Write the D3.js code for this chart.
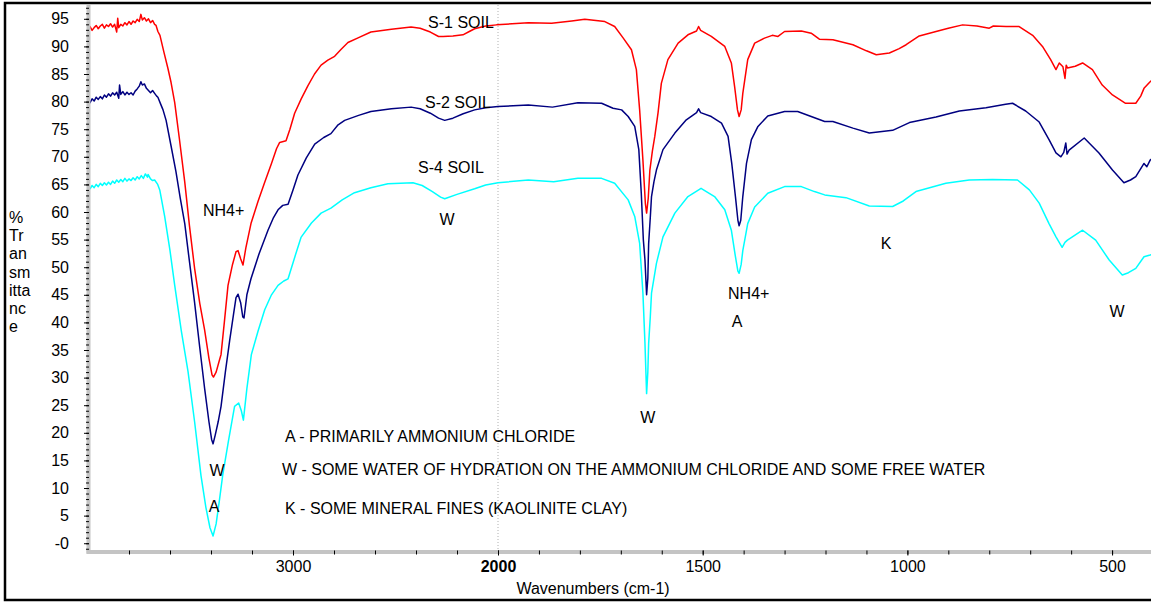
<!DOCTYPE html>
<html>
<head>
<meta charset="utf-8">
<script src="https://cdn.jsdelivr.net/npm/d3@7"></script>
<style>
  body { margin: 0; background: #fff; }
  svg { display: block; font-family: 'Liberation Sans', Arial, sans-serif; }
</style>
</head>
<body>
<svg id="chart"></svg>
<script>
// [wavenumber, %T]
const s1Soil = [
  [4000, 93.1], [3990, 93.6], [3980, 92.9], [3970, 93.4], [3960, 93.8], [3950, 93.2], [3940, 93.7], [3930, 94.0],
  [3920, 93.3], [3910, 93.9], [3900, 93.6], [3890, 94.1], [3880, 93.5], [3870, 94.0], [3860, 92.6], [3855, 95.1],
  [3850, 93.4], [3840, 94.0], [3830, 93.7], [3820, 94.3], [3810, 93.9], [3800, 94.5], [3790, 94.0], [3780, 94.6],
  [3770, 94.3], [3760, 94.9], [3750, 94.5], [3742, 95.8], [3735, 94.8], [3725, 95.2], [3715, 94.6], [3705, 95.0],
  [3695, 94.3], [3685, 94.7], [3675, 94.0], [3668, 93.8], [3659, 92.7], [3649, 92.0], [3630, 89.0], [3610, 86.0],
  [3595, 83.5], [3577, 79.8], [3555, 73.5], [3528, 65.4], [3505, 57.5], [3480, 49.8], [3455, 43.5], [3431, 38.6],
  [3410, 33.5], [3395, 30.5], [3388, 30.1], [3375, 31.0], [3360, 33.0], [3351, 34.2], [3335, 40.0], [3317, 46.7],
  [3295, 50.5], [3278, 52.8], [3268, 53.0], [3255, 51.5], [3244, 50.4], [3230, 53.5], [3205, 57.9], [3170, 62.0],
  [3138, 65.4], [3105, 68.8], [3080, 71.5], [3065, 72.6], [3034, 72.9], [3015, 75.0], [2992, 77.9], [2960, 80.5],
  [2927, 82.9], [2895, 85.0], [2863, 86.6], [2830, 87.5], [2797, 88.2], [2765, 89.5], [2732, 90.7], [2680, 91.6],
  [2620, 92.6], [2520, 93.1], [2424, 93.5], [2380, 93.3], [2330, 92.6], [2290, 91.8], [2268, 91.8], [2220, 91.9],
  [2171, 92.1], [2140, 92.7], [2114, 93.2], [2060, 93.7], [2007, 93.9], [1926, 94.3], [1869, 94.2], [1820, 94.6],
  [1788, 94.9], [1739, 94.5], [1715, 93.6], [1694, 91.5], [1674, 89.4], [1662, 85.8], [1654, 78.5], [1646, 69.4],
  [1640, 61.5], [1637, 59.8], [1633, 62.5], [1629, 67.6], [1623, 71.0], [1617, 73.7], [1609, 78.0], [1601, 83.3],
  [1585, 87.6], [1560, 90.6], [1536, 92.1], [1515, 92.8], [1510, 93.6], [1505, 92.9], [1479, 91.8], [1446, 90.0],
  [1430, 87.0], [1422, 82.7], [1415, 78.5], [1411, 77.3], [1406, 78.5], [1402, 81.5], [1390, 87.6], [1373, 90.6],
  [1349, 91.5], [1330, 92.0], [1316, 91.8], [1300, 92.7], [1259, 92.8], [1235, 92.4], [1215, 91.3], [1182, 91.2],
  [1133, 90.3], [1100, 89.2], [1076, 88.5], [1044, 88.8], [1020, 89.6], [1003, 90.3], [971, 91.9], [930, 92.7],
  [900, 93.3], [865, 93.9], [830, 93.7], [800, 93.3], [790, 93.7], [759, 93.6], [727, 93.6], [694, 92.0],
  [670, 90.0], [650, 87.6], [637, 85.8], [629, 87.0], [620, 86.3], [615, 84.2], [612, 86.6], [609, 86.1],
  [590, 86.4], [572, 87.0], [548, 85.8], [524, 83.0], [499, 81.2], [467, 79.7], [442, 79.7], [430, 81.0],
  [422, 82.4], [407, 83.6], [400, 84.0],
];

const s2Soil = [
  [4000, 80.3], [3990, 79.8], [3980, 80.5], [3970, 80.1], [3960, 80.8], [3950, 80.4], [3940, 80.9], [3930, 80.5],
  [3920, 81.2], [3910, 80.8], [3900, 81.4], [3890, 81.0], [3880, 81.6], [3870, 81.2], [3860, 81.7], [3850, 80.6],
  [3846, 83.0], [3840, 81.3], [3830, 81.8], [3820, 81.2], [3810, 81.7], [3800, 81.3], [3790, 81.6], [3780, 81.2],
  [3770, 81.9], [3760, 82.3], [3750, 82.8], [3742, 83.6], [3735, 83.0], [3725, 83.2], [3715, 82.4], [3705, 82.0],
  [3695, 81.6], [3685, 82.0], [3675, 81.5], [3665, 81.0], [3659, 80.8], [3645, 79.5], [3634, 78.5], [3619, 76.6],
  [3595, 72.0], [3571, 67.3], [3550, 62.5], [3528, 57.9], [3505, 51.0], [3480, 43.6], [3455, 35.5], [3431, 28.0],
  [3410, 22.0], [3397, 18.8], [3390, 18.0], [3380, 19.5], [3365, 22.0], [3351, 24.8], [3330, 31.0], [3309, 36.7],
  [3290, 41.5], [3278, 44.5], [3268, 45.1], [3255, 43.5], [3245, 41.0], [3239, 40.8], [3225, 45.0], [3205, 47.9],
  [3165, 52.5], [3122, 56.7], [3095, 59.0], [3073, 60.4], [3050, 61.2], [3024, 61.4], [3000, 64.0], [2976, 66.7],
  [2935, 69.8], [2894, 72.3], [2850, 73.5], [2815, 74.2], [2780, 75.8], [2748, 76.6], [2680, 77.5], [2620, 78.2],
  [2520, 78.7], [2424, 79.0], [2380, 78.7], [2330, 77.9], [2290, 77.0], [2260, 76.6], [2220, 77.0], [2170, 77.8],
  [2114, 78.5], [2060, 78.9], [2000, 79.1], [1926, 79.4], [1867, 79.0], [1805, 79.8], [1747, 79.7], [1719, 78.8],
  [1698, 78.5], [1682, 77.3], [1666, 75.5], [1656, 71.3], [1650, 63.4], [1645, 55.0], [1641, 51.3], [1637, 45.0],
  [1634, 48.0], [1632, 54.3], [1628, 59.0], [1625, 62.8], [1619, 65.5], [1613, 67.6], [1597, 71.3], [1568, 74.3],
  [1540, 76.7], [1515, 78.0], [1510, 78.7], [1505, 78.0], [1479, 77.3], [1454, 76.1], [1438, 73.7], [1429, 68.8],
  [1420, 62.8], [1414, 58.5], [1411, 57.5], [1407, 58.5], [1402, 62.8], [1393, 68.8], [1381, 73.1], [1365, 75.5],
  [1341, 77.4], [1300, 78.2], [1268, 78.2], [1235, 77.3], [1202, 76.4], [1182, 76.4], [1133, 75.2], [1093, 74.3],
  [1036, 74.8], [995, 76.2], [930, 77.2], [873, 78.3], [808, 78.9], [760, 79.5], [743, 79.7], [711, 78.3],
  [678, 76.3], [654, 73.1], [637, 70.7], [625, 70.0], [618, 70.8], [613, 72.5], [610, 70.5], [605, 71.2],
  [568, 73.4], [532, 70.7], [499, 67.6], [471, 65.3], [455, 65.8], [442, 66.4], [422, 68.8], [415, 68.2],
  [407, 69.4], [400, 69.8],
];

const s4Soil = [
  [4000, 64.6], [3990, 64.2], [3980, 64.8], [3970, 64.4], [3960, 65.0], [3950, 64.6], [3940, 65.2], [3930, 64.8],
  [3920, 65.3], [3910, 64.9], [3900, 65.4], [3890, 65.0], [3880, 65.6], [3870, 65.2], [3860, 65.8], [3850, 65.4],
  [3840, 65.9], [3830, 65.5], [3820, 66.1], [3810, 65.6], [3800, 66.0], [3790, 65.7], [3780, 66.2], [3770, 65.8],
  [3760, 66.4], [3750, 66.0], [3740, 66.6], [3730, 66.1], [3720, 66.9], [3710, 66.3], [3707, 66.8], [3695, 66.0],
  [3685, 65.7], [3675, 65.8], [3660, 65.0], [3650, 64.0], [3626, 59.2], [3600, 53.0], [3577, 46.7], [3545, 38.5],
  [3512, 31.1], [3480, 22.0], [3449, 12.3], [3425, 6.5], [3405, 2.8], [3390, 1.3], [3375, 3.5], [3360, 7.5],
  [3343, 12.3], [3315, 18.5], [3285, 24.8], [3265, 25.4], [3252, 24.0], [3242, 22.3], [3225, 28.0], [3203, 34.2],
  [3170, 38.5], [3138, 42.3], [3105, 45.0], [3073, 46.7], [3045, 47.5], [3024, 47.9], [2990, 52.0], [2961, 55.4],
  [2910, 58.0], [2863, 59.8], [2815, 60.7], [2760, 62.2], [2700, 63.5], [2620, 64.4], [2537, 65.1], [2415, 65.3],
  [2370, 64.8], [2320, 63.7], [2280, 62.7], [2260, 62.4], [2200, 63.2], [2114, 64.2], [2060, 64.9], [2000, 65.3],
  [1926, 65.8], [1864, 65.5], [1805, 66.1], [1747, 66.1], [1715, 65.2], [1682, 62.2], [1666, 59.2], [1654, 54.3],
  [1646, 45.3], [1641, 36.2], [1637, 27.1], [1634, 31.0], [1632, 36.2], [1628, 41.0], [1625, 45.3], [1613, 50.7],
  [1597, 55.5], [1568, 59.8], [1536, 62.8], [1504, 64.3], [1471, 62.8], [1446, 60.4], [1430, 56.7], [1420, 51.9],
  [1414, 49.3], [1411, 48.9], [1406, 50.5], [1402, 53.0], [1390, 57.9], [1373, 60.9], [1341, 63.4], [1300, 64.6],
  [1259, 64.6], [1227, 63.7], [1202, 63.1], [1150, 62.6], [1093, 61.1], [1036, 61.0], [1010, 62.0], [979, 63.7],
  [906, 65.2], [849, 65.8], [792, 65.9], [731, 65.8], [702, 64.0], [678, 61.6], [654, 57.9], [637, 55.5],
  [622, 53.6], [615, 54.5], [609, 54.9], [572, 56.7], [540, 54.9], [507, 51.3], [475, 48.6], [460, 49.0],
  [442, 49.8], [422, 51.9], [407, 52.2], [400, 52.4],
];

const seriesNames = ['S-1 SOIL', 'S-2 SOIL', 'S-4 SOIL'];
const seriesColors = ['#ff0000', '#000080', '#00ffff'];

const xLabelTicks = [3000, 2000, 1500, 1000, 500];
const yLabelTicks = d3.range(0, 96, 5);

// [text, wavenumber, %T, anchor]
const notes = [
  ['S-1 SOIL', 2341, 93.4, 'start'],
  ['S-2 SOIL', 2356, 78.9, 'start'],
  ['S-4 SOIL', 2390, 67.0, 'start'],
  ['W', 2249, 57.7, 'middle'],
  ['NH4+', 3439, 59.3, 'start'],
  ['W', 3371, 12.2, 'middle'],
  ['A', 3385, 5.7, 'middle'],
  ['A - PRIMARILY AMMONIUM CHLORIDE', 3039, 18.35, 'start'],
  ['W - SOME WATER OF HYDRATION ON THE AMMONIUM CHLORIDE AND SOME FREE WATER', 3054, 12.4, 'start'],
  ['K - SOME MINERAL FINES (KAOLINITE CLAY)', 3039, 5.3, 'start'],
  ['W', 1634, 21.8, 'middle'],
  ['NH4+', 1438, 44.3, 'start'],
  ['A', 1416, 39.2, 'middle'],
  ['K', 1052, 53.35, 'middle'],
  ['W', 488, 41.0, 'middle'],
];

const yTitle = ['%', 'Tr', 'an', 'sm', 'itta', 'nc', 'e'];

const WIDTH = 1151;
const HEIGHT = 602;
const FONT = '16px';

const svg = d3.select('#chart').attr('width', WIDTH).attr('height', HEIGHT);

// OMNIC style axis: 2x expansion below 2000 cm-1
const x = d3.scaleLinear().domain([4000, 2000, 400]).range([88, 498, 1153]);
const y = d3.scaleLinear().domain([-1.5, 97.5]).range([551.5, 5]);

// outer frame, cropped on the right
svg.append('rect')
  .attr('x', 5).attr('y', 3).attr('width', WIDTH + 10).attr('height', 597)
  .attr('fill', 'none').attr('stroke', '#000').attr('stroke-width', 2.5);

// dotted line at the scale break
svg.append('line')
  .attr('x1', x(2000)).attr('x2', x(2000))
  .attr('y1', y(97.5)).attr('y2', y(-1.5))
  .attr('stroke', '#b0b0b0').attr('stroke-dasharray', '1,2');

const line = d3.line().x((d) => x(d[0])).y((d) => y(d[1]));

[s1Soil, s2Soil, s4Soil].forEach((data, i) => {
  svg.append('path')
    .datum(data)
    .attr('fill', 'none')
    .attr('stroke', seriesColors[i])
    .attr('stroke-width', 1.5)
    .attr('stroke-linejoin', 'round')
    .attr('d', line);
});

// gray axis bars
svg.append('line')
  .attr('x1', x(4000) + 0.5).attr('x2', x(4000) + 0.5)
  .attr('y1', y(97.5)).attr('y2', y(-1.5) + 2)
  .attr('stroke', '#c4c4c4').attr('stroke-width', 4);
svg.append('line')
  .attr('x1', x(4000) - 1.5).attr('x2', WIDTH)
  .attr('y1', y(-1.5) + 0.5).attr('y2', y(-1.5) + 0.5)
  .attr('stroke', '#c4c4c4').attr('stroke-width', 4);

// y ticks
const yMinor = svg.append('g')
  .attr('transform', `translate(${x(4000) + 1},0)`)
  .call(d3.axisLeft(y).tickValues(d3.range(-1, 98, 1)).tickSize(3).tickFormat(''));
const yMajor = svg.append('g')
  .attr('transform', `translate(${x(4000) + 1},0)`)
  .call(d3.axisLeft(y).tickValues(yLabelTicks).tickSize(5).tickPadding(15)
    .tickFormat((d) => (d === 0 ? '-0' : d)));
[yMinor, yMajor].forEach((g) => {
  g.select('.domain').remove();
  g.selectAll('.tick line').attr('stroke', '#000').attr('stroke-width', 1);
});
yMajor.selectAll('.tick text')
  .attr('fill', '#000').style('font-size', FONT).style('font-family', "'Liberation Sans', Arial, sans-serif");

// x ticks
const xTickValues = d3.range(3800, 1999, -200).concat(d3.range(1900, 399, -100));
const xMinor = svg.append('g')
  .attr('transform', `translate(0,${y(-1.5) - 1})`)
  .call(d3.axisBottom(x).tickValues(xTickValues).tickSize(4).tickFormat(''));
const xMajor = svg.append('g')
  .attr('transform', `translate(0,${y(-1.5) - 1})`)
  .call(d3.axisBottom(x).tickValues(xLabelTicks).tickSize(5).tickPadding(5).tickFormat((d) => d));
[xMinor, xMajor].forEach((g) => {
  g.select('.domain').remove();
  g.selectAll('.tick line').attr('stroke', '#000').attr('stroke-width', 1);
});
xMajor.selectAll('.tick text')
  .attr('fill', '#000').style('font-size', FONT).style('font-family', "'Liberation Sans', Arial, sans-serif")
  .style('font-weight', (d) => (d === 2000 ? 'bold' : 'normal'));

svg.append('text')
  .attr('x', 593).attr('y', 594)
  .attr('text-anchor', 'middle')
  .style('font-size', FONT)
  .text('Wavenumbers (cm-1)');

// stacked y-axis title
svg.append('g')
  .selectAll('text')
  .data(yTitle)
  .join('text')
  .attr('x', 9)
  .attr('y', (d, i) => 223 + i * 18.2)
  .style('font-size', FONT)
  .text((d) => d);

// annotations
svg.append('g')
  .selectAll('text')
  .data(notes)
  .join('text')
  .attr('x', (d) => x(d[1]))
  .attr('y', (d) => y(d[2]))
  .attr('text-anchor', (d) => d[3])
  .style('font-size', FONT)
  .attr('fill', '#000')
  .text((d) => d[0]);
</script>
</body>
</html>
